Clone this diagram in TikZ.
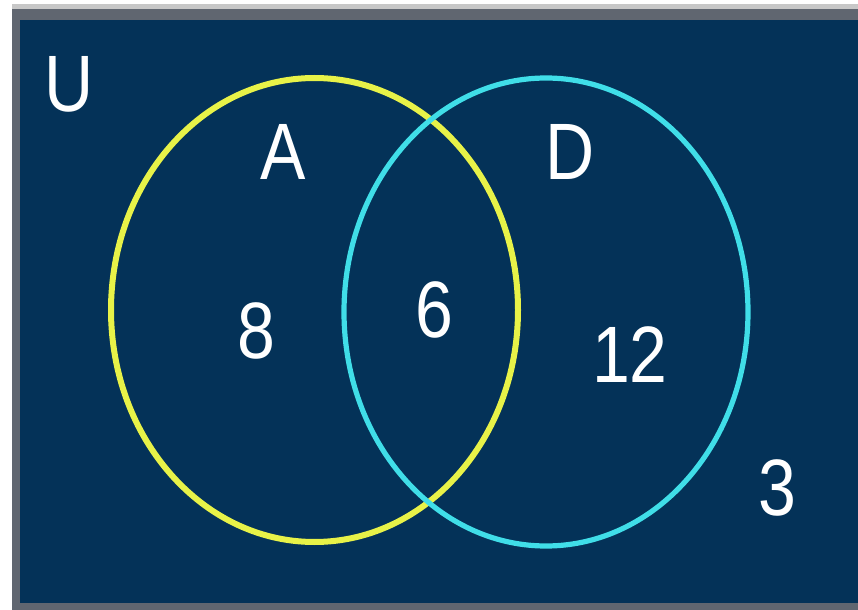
\documentclass[tikz,border=0pt]{standalone}
\usepackage{fontspec}
\usepackage{tikz}
\usetikzlibrary{shapes.geometric}
\newfontfamily\vnfont{Liberation Sans}[FakeStretch=0.85]
\definecolor{vnnavy}{RGB}{4,50,88}
\definecolor{vnframe}{RGB}{96,102,112}
\definecolor{vnyellow}{RGB}{232,242,72}
\definecolor{vncyan}{RGB}{64,222,232}
\tikzset{
  vnset/.style={ellipse, inner sep=0pt, line width=3pt},
  vnlab/.style={inner sep=0pt, text=white, font=\vnfont\fontsize{40}{40}\selectfont},
}
\newcommand{\vnSetA}{vnyellow}
\newcommand{\vnSetD}{vncyan}

\begin{document}
\begin{tikzpicture}[x=0.5pt, y=-0.5pt]
  \useasboundingbox (0,0) rectangle (858,610);
  \fill[white] (0,0) rectangle (858,610);
  \fill[black!22] (12,4) rectangle (858,610);
  \fill[vnframe] (12,9) rectangle (858,610);
  \fill[vnnavy] (20,20) rectangle (858,603);
  % the two sets
  \node[vnset, draw=\vnSetA, minimum width=203.5pt, minimum height=232pt] (SA) at (314.5,310) {};
  \node[vnset, draw=\vnSetD, line width=2.6pt, minimum width=202pt, minimum height=234pt] (SD) at (546,312) {};
  % labels and counts
  \node[vnlab] (U) at (69,84) {U};
  \node[vnlab] (A) at (283,152) {A};
  \node[vnlab] (D) at (570,152) {D};
  \node[vnlab] (onlyA) at (256,331) {8};
  \node[vnlab] (both) at (434,310) {6};
  \node[vnlab] (onlyD) at (630,355) {12};
  \node[vnlab] (none) at (777,488) {3};
\end{tikzpicture}
\end{document}
